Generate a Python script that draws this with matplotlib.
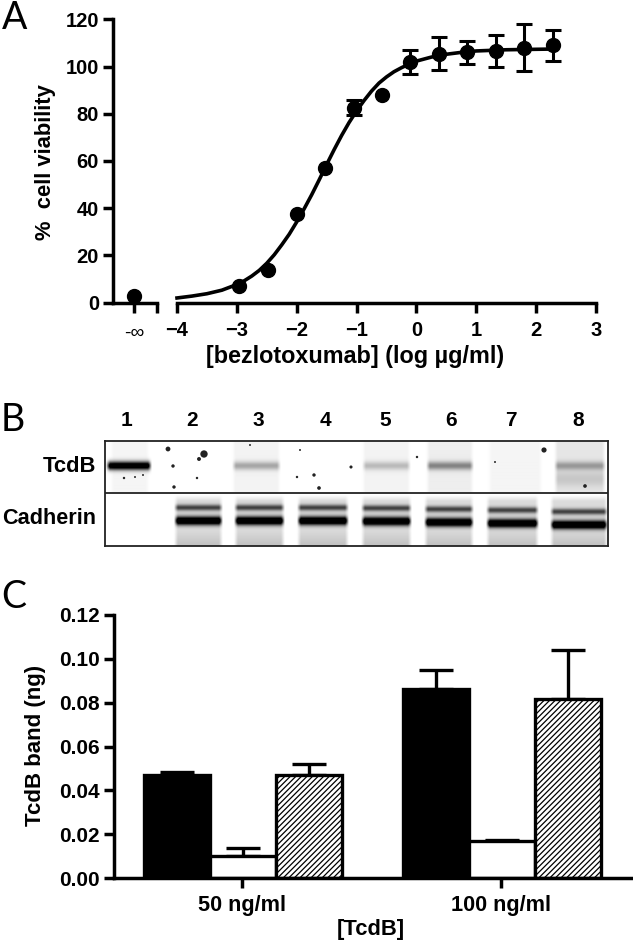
import numpy as np
import matplotlib
matplotlib.use("Agg")
import matplotlib.pyplot as plt

plt.rcParams['font.family'] = ['Liberation Sans', 'DejaVu Sans']
plt.rcParams['font.weight'] = 'bold'
plt.rcParams['hatch.linewidth'] = 0.9

W, H = 633, 940
# ---------- data: panel A
dose = [-2.97, -2.48, -1.99, -1.52, -1.05, -0.58, -0.10, 0.37, 0.85, 1.33, 1.80, 2.28]
viability = [7, 14, 37.5, 57, 82.5, 88, 102, 105.5, 106, 106.5, 108, 109]
viability_err = [0, 0, 0, 0, 3.2, 0, 5, 6.8, 5, 6.8, 10, 6.6]
zero_dose_viability = [3]
fit_x = [-4, -3.75, -3.5, -3.25, -3, -2.875, -2.75, -2.625, -2.5, -2.375, -2.25, -2.125, -2, -1.875,
         -1.75, -1.625, -1.5, -1.375, -1.25, -1.125, -1, -0.875, -0.75, -0.625, -0.5, -0.375, -0.25,
         -0.125, 0, 0.25, 0.5, 0.75, 1, 1.5, 2, 2.28]
fit_y = [2, 2.8, 3.8, 5.3, 7.7, 9.3, 11.3, 13.7, 16.7, 20.3, 24.5, 29, 34.2, 39.8,
         45.7, 52, 58.5, 64.8, 70.8, 76.3, 81.2, 85.6, 89.6, 93, 95.6, 97.8, 99.5,
         101, 102.3, 104, 105.2, 106, 106.6, 107.1, 107.3, 107.4]
a_xticks = [-4, -3, -2, -1, 0, 1, 2, 3]
a_yticks = [0, 20, 40, 60, 80, 100, 120]

# ---------- data: panel B
lane_labels = ['1', '2', '3', '4', '5', '6', '7', '8']
lane_label_x = [126, 192, 258, 325, 385, 451, 511, 578]
tcdb_lanes = [(108, 150, 1.2), (234, 279, 0.30), (364, 409, 0.22), (428, 472, 0.42), (556, 604, 0.30)]
tcdb_smears = [(112, 148, 0.04), (234, 279, 0.05), (364, 409, 0.05), (428, 472, 0.07), (490, 541, 0.04), (556, 604, 0.10)]
cad_lanes = [(176, 221, 0), (236, 283, 0), (299, 347, 0), (363, 410, 0.5), (426, 472, 1.5), (488, 537, 2.5), (552, 606, 4)]
specks_x = [168, 204, 199, 173, 197, 174, 250, 300, 314, 319, 297, 351, 417, 544, 585, 495, 124, 135, 143]
specks_y = [449, 454, 459, 466, 478, 487, 445, 450, 475, 488, 477, 467, 457, 450, 486, 462, 478, 477, 475]
specks_s = [12, 28, 8, 6, 3, 6, 2, 2, 6, 7, 3, 5, 3, 14, 7, 2, 3, 2, 2]

# ---------- data: panel C
groups = ['50 ng/ml', '100 ng/ml']
black_vals = [0.0468, 0.0864]
black_top = [0.0484, 0.0950]
white_vals = [0.0102, 0.0167]
white_top = [0.0137, 0.0172]
hatch_vals = [0.0470, 0.0815]
hatch_top = [0.0520, 0.1040]
c_yticks = [0, 0.02, 0.04, 0.06, 0.08, 0.10, 0.12]

fig = plt.figure(figsize=(W / 100, H / 100), dpi=100, facecolor='white')


def ax_px(l, t, r, b, **kw):
    return fig.add_axes([l / W, 1 - b / H, (r - l) / W, (b - t) / H], **kw)


def ftext(x, y, s, **kw):
    kw.setdefault('ha', 'center')
    kw.setdefault('va', 'center')
    return fig.text(x / W, 1 - y / H, s, **kw)


LW = 2.5
TS = 14.5
# ---------- Panel A, break section
axl = ax_px(113, 19.3, 157, 302.7)
axl.set_xlim(113, 157)
axl.set_ylim(0, 120)
axl.patch.set_alpha(0)
for s in ('top', 'right'):
    axl.spines[s].set_visible(False)
for s in ('left', 'bottom'):
    axl.spines[s].set_linewidth(LW)
axl.set_xticks([134, 157])
axl.set_xticklabels(['', ''])
axl.set_yticks(a_yticks)
axl.tick_params(length=7, width=LW, labelsize=TS, pad=3)
axl.plot([134], zero_dose_viability, 'o', color='black', ms=10, clip_on=False, zorder=5)

# ---------- Panel A, main section
axr = ax_px(177, 19.3, 596, 302.7)
axr.set_xlim(-4, 3)
axr.set_ylim(0, 120)
axr.patch.set_alpha(0)
for s in ('top', 'right', 'left'):
    axr.spines[s].set_visible(False)
axr.spines['bottom'].set_linewidth(LW)
axr.set_yticks([])
axr.set_xticks(a_xticks)
axr.tick_params(length=7, width=LW, labelsize=TS, pad=6)
axr.plot(fit_x, fit_y, color='black', lw=2.6, solid_joinstyle='round', clip_on=False)
has_err = [e > 0 for e in viability_err]
axr.plot(dose, viability, 'o', color='black', ms=10, clip_on=False, zorder=4)
axr.errorbar([d for d, k in zip(dose, has_err) if k],
             [v for v, k in zip(viability, has_err) if k],
             yerr=[e for e, k in zip(viability_err, has_err) if k], fmt='none', ecolor='black',
             elinewidth=2.2, capsize=5.5, capthick=2.2, clip_on=False, zorder=3)
ftext(134, 333, '-\u221e', fontsize=14, fontweight='normal')
ftext(355, 356, '[bezlotoxumab] (log \u00b5g/ml)', fontsize=16.8)
ftext(46, 162, '%  cell viability', fontsize=15.8, rotation=90)

# ---------- Panel B
axb = ax_px(105, 440.7, 608, 545.7)
axb.set_xlim(105, 608)
axb.set_ylim(545.7, 440.7)
xx, yy = np.meshgrid(np.arange(105.5, 608), np.arange(441, 546))
img = np.zeros_like(xx, dtype=float)


def lane_mask(x0, x1):
    return np.clip((xx - x0) / 4 + 0.5, 0, 1) * np.clip((x1 - xx) / 4 + 0.5, 0, 1)


top = yy < 493
for x0, x1, level in tcdb_smears:
    img += level * lane_mask(x0, x1) * top
for x0, x1, level in tcdb_lanes:
    img += level * lane_mask(x0, x1) * np.exp(-((yy - 466) / 4.2) ** 2) * top
lower = ~top
for x0, x1, drift in cad_lanes:
    m = lane_mask(x0, x1) * lower
    img += m * (0.62 * np.exp(-((yy - 507.5 - drift) / 3.0) ** 2)
                + 1.25 * np.exp(-((yy - 520.5 - drift) / 4.2) ** 2)
                + 0.14 * np.clip((yy - 495) / 6, 0, 1)
                + 0.10 * np.clip((yy - 530) / 15, 0, 1))
img += 0.12 * lane_mask(556, 604) * np.exp(-((yy - 479) / 8) ** 2) * top
img = np.clip(img, 0, 1)
axb.imshow(1 - img, cmap='gray', vmin=0, vmax=1, extent=(105, 608, 545.7, 440.7),
           aspect='auto', interpolation='bilinear')
axb.scatter(specks_x, specks_y, s=specks_s, c='#222222', linewidths=0, zorder=3)
axb.axhline(493, color='#222222', lw=1.3)
axb.set_xticks([])
axb.set_yticks([])
for s in axb.spines.values():
    s.set_linewidth(1.3)
    s.set_color('#222222')
for x, s in zip(lane_label_x, lane_labels):
    ftext(x, 421, s, fontsize=15)
ftext(96, 466, 'TcdB', fontsize=15.8, ha='right')
ftext(96, 519, 'Cadherin', fontsize=15.6, ha='right')

# ---------- Panel C
axc = ax_px(114, 615, 632, 878)
axc.set_xlim(-0.494, 1.506)
axc.set_ylim(0, 0.12)
axc.patch.set_alpha(0)
for s in ('top', 'right'):
    axc.spines[s].set_visible(False)
for s in ('left', 'bottom'):
    axc.spines[s].set_linewidth(LW)
pos = np.arange(len(groups))
bw = 0.2545
series = [(-bw, black_vals, black_top, 'black', None),
          (0, white_vals, white_top, 'white', None),
          (bw, hatch_vals, hatch_top, 'white', '//////')]
for off, vals, tops, fc, hatch in series:
    axc.bar(pos + off + 0.005, vals, bw, facecolor=fc, edgecolor='black', lw=2.4, hatch=hatch, zorder=2)
    lower_err = np.zeros(len(vals))
    upper_err = np.array(tops) - np.array(vals)
    axc.errorbar(pos + off + 0.005, vals, yerr=[lower_err, upper_err], fmt='none', ecolor='black',
                 elinewidth=2.4, capsize=12.5, capthick=2.4, zorder=1)
axc.set_xticks(pos)
axc.set_xticklabels(groups)
axc.set_yticks(c_yticks)
axc.set_yticklabels([f'{v:.2f}' for v in c_yticks])
axc.tick_params(axis='y', length=7, width=LW, labelsize=15, pad=3)
axc.tick_params(axis='x', length=7, width=LW, labelsize=15.6, pad=5)
ftext(371, 929, '[TcdB]', fontsize=15.8)
ftext(36, 745, 'TcdB band (ng)', fontsize=16, rotation=90)

# ---------- Panel letters
for x, y, s in [(15, 18, 'A'), (13, 420, 'B'), (14, 597, 'C')]:
    ftext(x, y, s, fontsize=27, fontweight='normal', family=['Lato', 'DejaVu Sans'])

fig.savefig('out.png', dpi=100)
